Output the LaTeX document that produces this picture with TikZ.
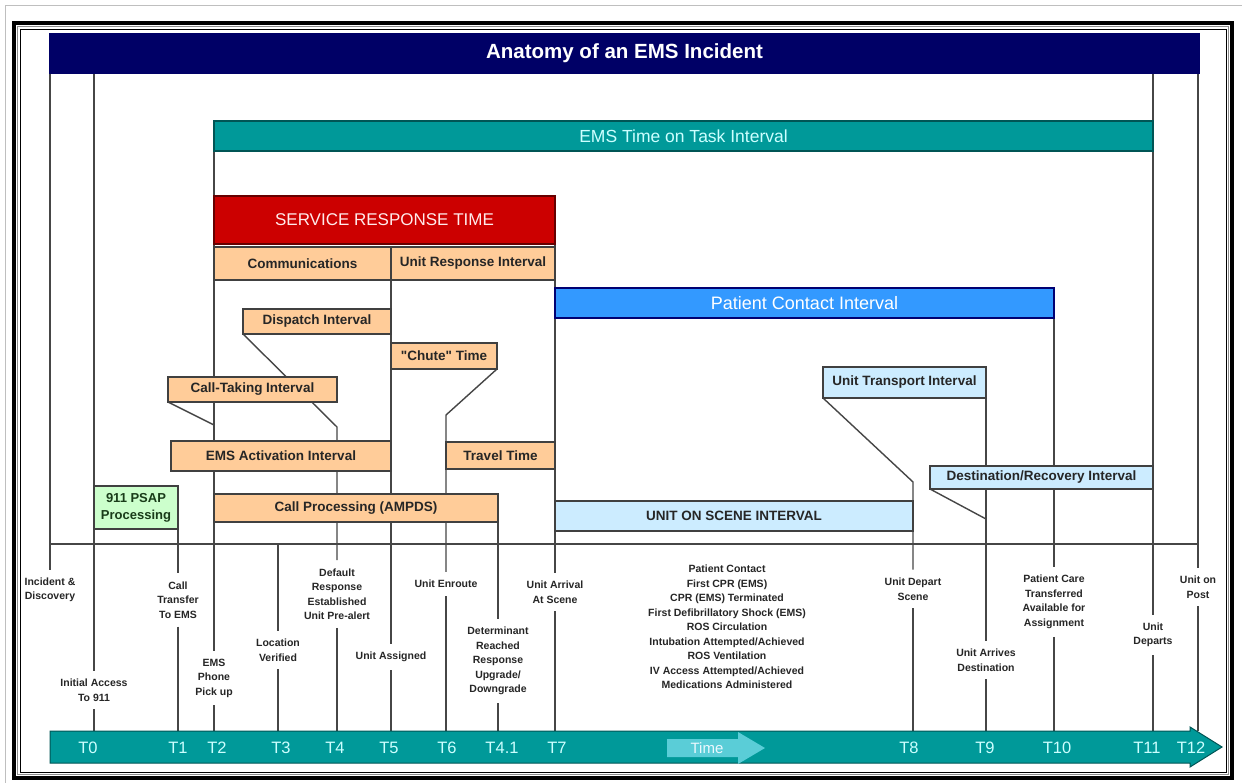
\documentclass[tikz,border=0pt]{standalone}
\usepackage{fontspec}
\setmainfont{Liberation Sans}[Ligatures=TeXOff]
\definecolor{navy}{RGB}{0,0,102}
\definecolor{tealbar}{RGB}{0,153,153}
\definecolor{tealdark}{RGB}{0,85,85}
\definecolor{srred}{RGB}{204,0,0}
\definecolor{peach}{RGB}{255,204,153}
\definecolor{pblue}{RGB}{51,153,255}
\definecolor{lblue}{RGB}{204,236,255}
\definecolor{lgreen}{RGB}{204,255,204}
\definecolor{gline}{RGB}{70,70,70}
\definecolor{timecyan}{RGB}{90,205,215}
\definecolor{tlab}{RGB}{204,255,255}
\definecolor{dkgreen}{RGB}{25,60,25}
\pgfdeclarelayer{bg}
\pgfdeclarelayer{back}
\pgfsetlayers{bg,back,main}
\newcommand\mybox[7]{\node[#6, anchor=north west, minimum width={(#4-#2)*1pt}, minimum height={(#5-#3)*1pt}] (#1) at (#2,#3) {#7};}
\begin{document}
\begin{tikzpicture}[x=1pt,y=-1pt,
  vline/.style={draw=gline, line width=1.4pt},
  boxbase/.style={inner sep=0pt, outer sep=0pt, line width=1.1pt, align=center},
  titlebox/.style={boxbase, fill=navy, draw=navy, text=white, font=\bfseries\fontsize{20.5}{24}\selectfont},
  totbox/.style={boxbase, fill=tealbar, draw=tealdark, text=tlab, font=\fontsize{17.5}{20}\selectfont},
  srtbox/.style={boxbase, fill=srred, draw=black!60!red, text=red!8, font=\fontsize{17}{20}\selectfont},
  pcibox/.style={boxbase, fill=pblue, draw=black!55!blue, text=white, font=\fontsize{18}{20}\selectfont},
  peachbox/.style={boxbase, fill=peach, draw=black!75, text=black!85, font=\bfseries\fontsize{13.5}{15}\selectfont},
  lbbox/.style={boxbase, fill=lblue, draw=black!75, text=black!85, font=\bfseries\fontsize{13.5}{15}\selectfont},
  greenbox/.style={boxbase, fill=lgreen, draw=black!75, text=dkgreen, font=\bfseries\fontsize{13}{17}\selectfont},
  evlabel/.style={font=\bfseries\fontsize{10.5}{14.5}\selectfont, text=black!85, align=center, inner xsep=1pt, inner ysep=8pt},
  tlabel/.style={text=tlab, font=\fontsize{16.5}{18}\selectfont, inner sep=0pt}
]
\useasboundingbox (0,0) rectangle (1242,783);

% ---------- frame ----------
\begin{pgfonlayer}{bg}
\fill[white] (0,0) rectangle (1242,783);
\draw[black!25, line width=1pt] (5,783) -- (5,6) -- (1242,6);
\draw[black, line width=4pt] (14,23) rectangle (1232,778);
\draw[black!45, line width=1.5pt] (17.5,26.5) rectangle (1228.5,774.5);
\draw[black, line width=1pt] (20,29.5) rectangle (1226,772);
\end{pgfonlayer}

% ---------- boxes ----------
\mybox{title}{50}{34}{1199}{73}{titlebox}{Anatomy of an EMS Incident}
\mybox{tot}{214}{121}{1153}{151}{totbox}{EMS Time on Task Interval}
\mybox{srt}{214}{196}{555}{244}{srtbox}{SERVICE RESPONSE TIME}
\mybox{comm}{214}{247}{391}{280}{peachbox}{Communications}
\mybox{uri}{391}{247}{555}{280}{peachbox}{Unit Response Interval}
\mybox{pci}{555}{288}{1054}{318}{pcibox}{Patient Contact Interval}
\mybox{disp}{243}{309}{391}{334}{peachbox}{Dispatch Interval}
\mybox{chute}{391}{343}{497}{369}{peachbox}{"Chute" Time}
\mybox{ctk}{168}{377}{337}{402}{peachbox}{Call-Taking Interval}
\mybox{act}{171}{441}{391}{471}{peachbox}{EMS Activation Interval}
\mybox{trav}{446}{442}{555}{469}{peachbox}{Travel Time}
\mybox{psap}{94}{486}{178}{529}{greenbox}{911 PSAP\\Processing}
\mybox{cproc}{214}{494}{498}{522}{peachbox}{Call Processing (AMPDS)}
\mybox{scene}{555}{501}{913}{531}{lbbox}{UNIT ON SCENE INTERVAL}
\mybox{trans}{823}{367}{986}{398}{lbbox}{Unit Transport Interval}
\mybox{dest}{930}{466}{1153}{489}{lbbox}{Destination/Recovery Interval}

% ---------- event labels ----------
\node[evlabel] (lI)  at (50,590)   {Incident \&\\Discovery};
\node[evlabel] (l0)  at (94,690)   {Initial Access\\To 911};
\node[evlabel] (l1)  at (178,600)  {Call\\Transfer\\To EMS};
\node[evlabel] (l2)  at (214,678)  {EMS\\Phone\\Pick up};
\node[evlabel] (l3)  at (278,650)  {Location\\Verified};
\node[evlabel] (l4)  at (337,594)  {Default\\Response\\Established\\Unit Pre-alert};
\node[evlabel] (l5)  at (391,657)  {Unit Assigned};
\node[evlabel] (l6)  at (446,584)  {Unit Enroute};
\node[evlabel] (l41) at (498,661)  {Determinant\\Reached\\Response\\Upgrade/\\Downgrade};
\node[evlabel] (l7)  at (555,592)  {Unit Arrival\\At Scene};
\node[evlabel] (lpc) at (727,627)  {Patient Contact\\First CPR (EMS)\\CPR (EMS) Terminated\\First Defibrillatory Shock (EMS)\\ROS Circulation\\Intubation Attempted/Achieved\\ROS Ventilation\\IV Access Attempted/Achieved\\Medications Administered};
\node[evlabel] (l8)  at (913,589)  {Unit Depart\\Scene};
\node[evlabel] (l9)  at (986,660)  {Unit Arrives\\Destination};
\node[evlabel] (l10) at (1054,602) {Patient Care\\Transferred\\Available for\\Assignment};
\node[evlabel] (l11) at (1153,635) {Unit\\Departs};
\node[evlabel] (l12) at (1198,587) {Unit on\\Post};

% ---------- helper coordinates ----------
\coordinate (c50) at (50,73);
\coordinate (c94) at (94,73);
\coordinate (c1153) at (1153,73);
\coordinate (c1198) at (1198,73);
\coordinate (k2) at (214,425);
\coordinate (k3) at (278,544);
\coordinate (k4) at (337,427);
\coordinate (k6) at (446,415);
\coordinate (k8) at (913,482);
\coordinate (k9) at (986,519);
\coordinate (bartop) at (0,731);

% ---------- connector lines (behind boxes) ----------
\begin{pgfonlayer}{back}
\draw[vline] (c50) -- (lI.north);
\draw[vline] (c50 |- k3) -- (c1198 |- k3);
\draw[vline] (c94) -- (l0.north);
\draw[vline] (psap.south east) -- (l1.north);
\draw[vline] (tot.south west) -- (l2.north);
\draw[vline] (ctk.south west) -- (k2);
\draw[vline] (k3) -- (l3.north);
\draw[vline] (disp.south west) -- (k4) -- (l4.north);
\draw[vline] (comm.north east) -- (l5.north);
\draw[vline] (chute.south east) -- (k6) -- (l6.north);
\draw[vline] (cproc.south east) -- (l41.north);
\draw[vline] (srt.north east) -- (l7.north);
\draw[vline] (trans.south west) -- (k8) -- (l8.north);
\draw[vline] (trans.south east) -- (l9.north);
\draw[vline] (dest.south west) -- (k9);
\draw[vline] (pci.south east) -- (l10.north);
\draw[vline] (c1153) -- (l11.north);
\draw[vline] (c1198) -- (l12.north);
\foreach \n in {l0,l1,l2,l3,l4,l5,l6,l41,l7,l8,l9,l10,l11,l12}
  \draw[vline] (\n.south) -- (\n.south |- bartop);
\end{pgfonlayer}

% ---------- timeline arrow ----------
\path[fill=tealbar, draw=tealdark, line width=1pt, line join=miter]
  (50,731) -- (1190,731) -- (1190,727) -- (1222,747) -- (1190,767) -- (1190,763) -- (50,763) -- cycle;
\path[fill=timecyan]
  (667,739) -- (738,739) -- (738,732) -- (765,748) -- (738,764) -- (738,757) -- (667,757) -- cycle;
\node[text=white!92!cyan, font=\fontsize{15}{17}\selectfont, inner sep=0pt] (time) at (707,748) {Time};

\node[tlabel] (T0)  at (88,748)   {T0};
\node[tlabel] (T1)  at (178,748)  {T1};
\node[tlabel] (T2)  at (217,748)  {T2};
\node[tlabel] (T3)  at (281,748)  {T3};
\node[tlabel] (T4)  at (335,748)  {T4};
\node[tlabel] (T5)  at (389,748)  {T5};
\node[tlabel] (T6)  at (447,748)  {T6};
\node[tlabel] (T41) at (502,748)  {T4.1};
\node[tlabel] (T7)  at (557,748)  {T7};
\node[tlabel] (T8)  at (909,748)  {T8};
\node[tlabel] (T9)  at (985,748)  {T9};
\node[tlabel] (T10) at (1057,748) {T10};
\node[tlabel] (T11) at (1147,748) {T11};
\node[tlabel] (T12) at (1191,748) {T12};
\end{tikzpicture}
\end{document}
